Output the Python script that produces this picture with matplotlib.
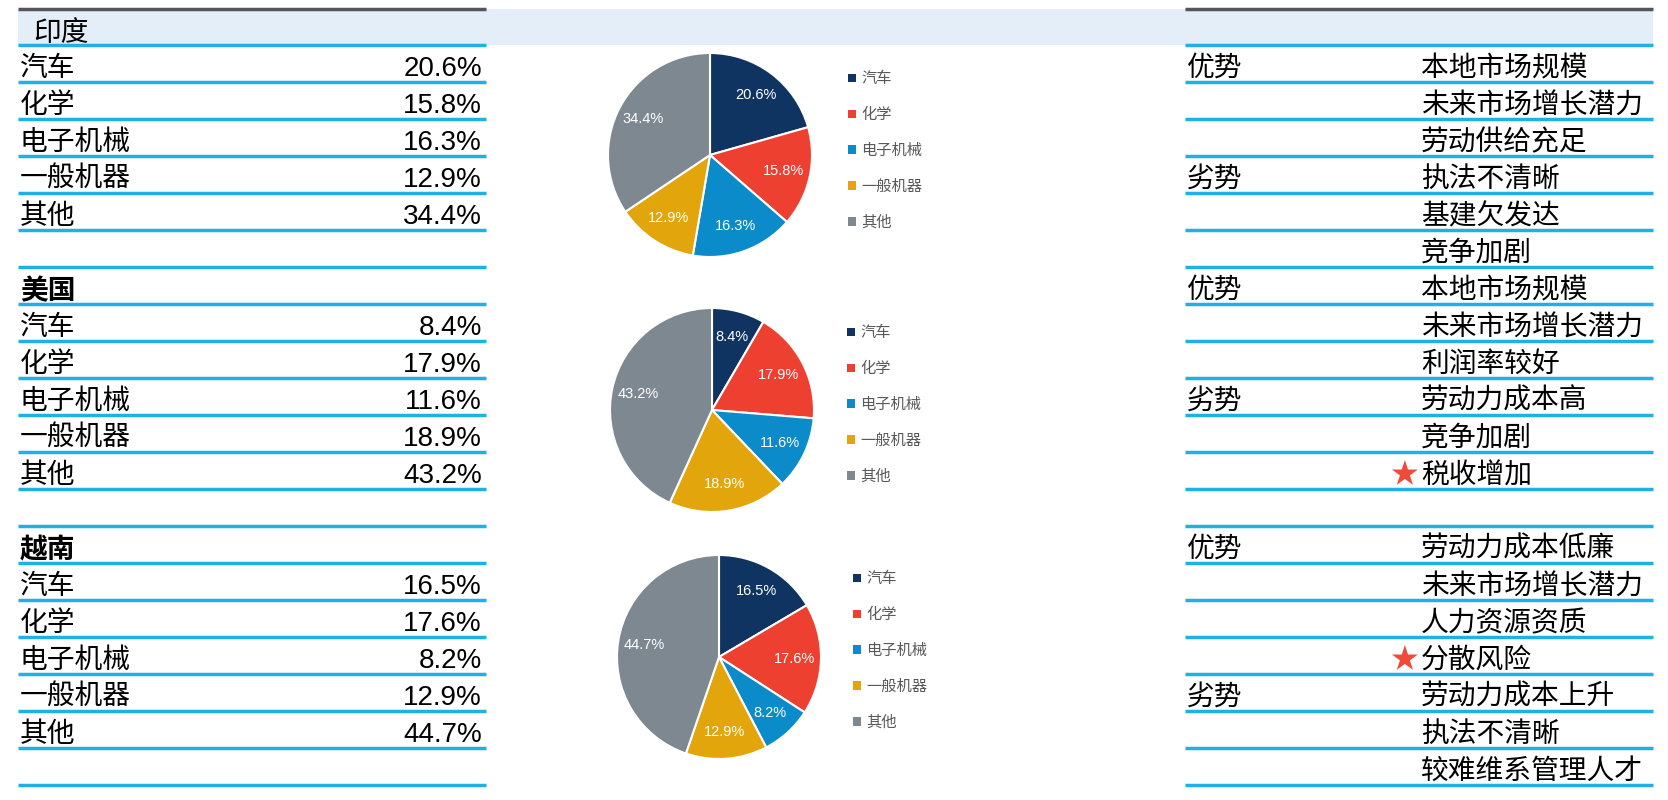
import matplotlib
matplotlib.use("Agg")
import matplotlib.pyplot as plt
from matplotlib.patches import Rectangle

plt.rcParams['font.family'] = ['Liberation Sans', 'Noto Sans CJK SC', 'DejaVu Sans']

# ---------------- data ----------------
countries = ['印度', '美国', '越南']
categories = ['汽车', '化学', '电子机械', '一般机器', '其他']
india_share = [20.6, 15.8, 16.3, 12.9, 34.4]
us_share = [8.4, 17.9, 11.6, 18.9, 43.2]
vietnam_share = [16.5, 17.6, 8.2, 12.9, 44.7]

pro_label = '优势'
con_label = '劣势'
india_pros = ['本地市场规模', '未来市场增长潜力', '劳动供给充足']
india_cons = ['执法不清晰', '基建欠发达', '竞争加剧']
us_pros = ['本地市场规模', '未来市场增长潜力', '利润率较好']
us_cons = ['劳动力成本高', '竞争加剧', '税收增加']
vietnam_pros = ['劳动力成本低廉', '未来市场增长潜力', '人力资源资质', '分散风险']
vietnam_cons = ['劳动力成本上升', '执法不清晰', '较难维系管理人才']
starred_items = ['税收增加', '分散风险']

shares = [india_share, us_share, vietnam_share]
pros = [india_pros, us_pros, vietnam_pros]
cons = [india_cons, us_cons, vietnam_cons]

colors = ['#0f3461', '#ee4031', '#0b8bc9', '#e3a50c', '#7e8890']

# ---------------- layout ----------------
W, H = 1668, 800
fig = plt.figure(figsize=(W / 100, H / 100), dpi=100)
ax = fig.add_axes([0, 0, 1, 1])
ax.set_xlim(0, W)
ax.set_ylim(H, 0)
ax.axis('off')

ROW0 = 45
RH = 37
NROWS = 20
L0, L1 = 18, 486
R0, R1 = 1185, 1653
line_blue = '#1fb0e6'
FS = 20

def row_center(i):
    return ROW0 + RH * i + RH / 2 + 5.5

# header band
ax.add_patch(Rectangle((L0, 9), R1 - L0, ROW0 - 9, facecolor='#e4eef8', edgecolor='none', zorder=0))
ax.plot([L0, L1], [9, 9], color='#555555', lw=2.5, solid_capstyle='butt')
ax.plot([R0, R1], [9, 9], color='#555555', lw=2.5, solid_capstyle='butt')

for k in range(NROWS + 1):
    y = ROW0 + RH * k
    ax.plot([L0, L1], [y, y], color=line_blue, lw=2.5, solid_capstyle='butt')
    ax.plot([R0, R1], [y, y], color=line_blue, lw=2.5, solid_capstyle='butt')

header_rows = [-1, 6, 13]
right_start = [0, 6, 13]

def star(y):
    ax.text(1419, y - 1, '★', fontsize=FS, va='center', ha='right',
            color='#f04a3a', family=['Noto Sans CJK SC', 'DejaVu Sans'])

for c, country in enumerate(countries):
    hr = header_rows[c]
    if hr < 0:
        ax.text(33, 34, country, fontsize=FS, va='center', ha='left')
    else:
        ax.text(20, row_center(hr) + 1.5, country, fontsize=FS, va='center', ha='left', fontweight='bold')
    for j, (cat, v) in enumerate(zip(categories, shares[c])):
        r = hr + 1 + j
        ax.text(20, row_center(r), cat, fontsize=FS, va='center', ha='left')
        ax.text(482, row_center(r), f'{v:.1f}%', fontsize=FS, va='center', ha='right')
    rs = right_start[c]
    ax.text(1187, row_center(rs), pro_label, fontsize=FS, va='center', ha='left')
    for j, item in enumerate(pros[c]):
        ax.text(1421, row_center(rs + j), item, fontsize=FS, va='center', ha='left')
        if item in starred_items:
            star(row_center(rs + j))
    rc = rs + len(pros[c])
    ax.text(1187, row_center(rc), con_label, fontsize=FS, va='center', ha='left')
    for j, item in enumerate(cons[c]):
        ax.text(1421, row_center(rc + j), item, fontsize=FS, va='center', ha='left')
        if item in starred_items:
            star(row_center(rc + j))

# pies
pie_centers = [(710, 155), (712, 410), (719, 657)]
legend_pos = [(848, 151), (847, 405), (853, 651)]
R = 102
for c in range(3):
    cx, cy = pie_centers[c]
    pax = fig.add_axes([(cx - R) / W, 1 - (cy + R) / H, 2 * R / W, 2 * R / H])
    wedges, _, autotexts = pax.pie(shares[c], colors=colors, startangle=90, counterclock=False,
                                   autopct='%.1f%%', pctdistance=0.74,
                                   wedgeprops=dict(edgecolor='white', linewidth=1.5),
                                   textprops=dict(color='white', fontsize=10.5))
    pax.set_xlim(-1, 1)
    pax.set_ylim(-1, 1)
    pax.set_aspect('equal')
    lx, ly = legend_pos[c]
    leg = pax.legend(wedges, categories, loc='center left',
                     bbox_to_anchor=(lx / W, 1 - ly / H), bbox_transform=fig.transFigure,
                     frameon=False, fontsize=11, handlelength=0.5, handleheight=0.5,
                     handletextpad=0.35, labelspacing=1.42, borderpad=0, borderaxespad=0)
    for t in leg.get_texts():
        t.set_color('#595959')
    for h in leg.legend_handles:
        h.set_edgecolor('none')

fig.savefig('out.png', dpi=100)
